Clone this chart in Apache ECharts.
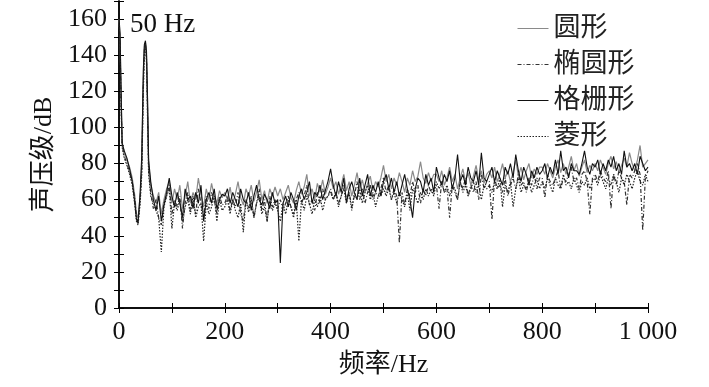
<!DOCTYPE html>
<html>
<head>
<meta charset="utf-8">
<script src="https://cdn.jsdelivr.net/npm/echarts@6/dist/echarts.min.js"></script>
<style>
    html, body {margin: 0; padding: 0; background: #fff;}
    #main {width: 709px; height: 387px;}
</style>
</head>
<body>
<div id="main"></div>
<script>
// frequency samples (Hz)
var freq = [
    0, 2, 4, 6, 10, 15, 20, 25, 30, 33, 36, 40, 43, 46, 48, 50, 52, 54, 56,
    60, 65, 70, 75, 80, 85, 90, 95,
    100, 105, 110, 115, 120, 125, 130, 135, 140, 145, 150, 155, 160, 165, 170, 175, 180, 185, 190, 195,
    200, 205, 210, 215, 220, 225, 230, 235, 240, 245, 250, 255, 260, 265, 270, 275, 280, 285, 290, 295,
    300, 305, 310, 315, 320, 325, 330, 335, 340, 345, 350, 355, 360, 365, 370, 375, 380, 385, 390, 395,
    400, 405, 410, 415, 420, 425, 430, 435, 440, 445, 450, 455, 460, 465, 470, 475, 480, 485, 490, 495,
    500, 505, 510, 515, 520, 525, 530, 535, 540, 545, 550, 555, 560, 565, 570, 575, 580, 585, 590, 595,
    600, 605, 610, 615, 620, 625, 630, 635, 640, 645, 650, 655, 660, 665, 670, 675, 680, 685, 690, 695,
    700, 705, 710, 715, 720, 725, 730, 735, 740, 745, 750, 755, 760, 765, 770, 775, 780, 785, 790, 795,
    800, 805, 810, 815, 820, 825, 830, 835, 840, 845, 850, 855, 860, 865, 870, 875, 880, 885, 890, 895,
    900, 905, 910, 915, 920, 925, 930, 935, 940, 945, 950, 955, 960, 965, 970, 975, 980, 985, 990, 995, 1000
];

// sound pressure level (dB) per shape
var circle = [
    160, 150, 118, 92, 86, 82, 78, 72, 62, 52, 50, 62, 80, 128, 145, 147, 140, 112, 80,
    68, 62, 58, 64, 52, 60, 66, 70,
    58, 66, 60, 68, 55, 62, 70, 58, 64, 60, 72, 63, 56, 66, 60, 69, 62, 58, 65, 61,
    64, 60, 67, 58, 63, 70, 61, 57, 66, 62, 68, 59, 64, 71, 60, 65, 58, 66, 62, 67,
    62, 66, 60, 64, 68, 61, 58, 65, 70, 63, 67, 74, 62, 66, 60, 69, 64, 71, 63, 67,
    72, 66, 70, 63, 68, 74, 65, 70, 62, 68, 75, 66, 71, 64, 69, 73, 65, 70, 67, 72,
    79, 70, 74, 66, 72, 68, 75, 70, 64, 72, 68, 76, 70, 73, 81, 72, 69, 75, 70, 74,
    74, 70, 76, 68, 72, 78, 70, 74, 66, 72, 77, 70, 75, 68, 73, 79, 71, 76, 69, 74,
    76, 72, 78, 70, 74, 80, 72, 76, 70, 75, 82, 73, 78, 71, 76, 80, 72, 77, 74, 78,
    78, 74, 80, 76, 72, 78, 82, 75, 80, 74, 78, 84, 76, 80, 73, 78, 82, 75, 79, 76,
    80, 76, 82, 78, 74, 80, 84, 77, 81, 75, 79, 83, 78, 86, 80, 76, 82, 90, 78, 80, 82
];
var ellipse = [
    158, 146, 112, 90, 84, 80, 75, 70, 60, 50, 48, 60, 76, 124, 143, 146, 138, 108, 76,
    64, 55, 60, 50, 46, 58, 62, 68,
    52, 60, 56, 62, 44, 58, 64, 54, 60, 52, 66, 58, 50, 62, 55, 64, 60, 52, 62, 57,
    58, 62, 54, 60, 56, 64, 52, 48, 60, 55, 62, 50, 58, 66, 54, 60, 48, 62, 56, 60,
    55, 60, 54, 58, 62, 56, 52, 60, 64, 58, 62, 68, 57, 60, 54, 64, 58, 66, 60, 62,
    66, 60, 64, 58, 62, 68, 60, 64, 56, 62, 70, 60, 66, 58, 64, 68, 60, 64, 62, 66,
    72, 64, 68, 60, 66, 62, 36, 64, 57, 66, 62, 70, 64, 68, 58, 66, 62, 68, 64, 66,
    68, 55, 70, 64, 66, 50, 68, 64, 60, 70, 66, 72, 62, 68, 64, 70, 60, 74, 66, 70,
    70, 49, 72, 66, 68, 64, 72, 62, 68, 72, 66, 74, 68, 70, 64, 72, 68, 74, 66, 72,
    72, 61, 74, 70, 68, 72, 76, 66, 72, 70, 74, 78, 70, 72, 66, 74, 76, 70, 52, 72,
    74, 70, 76, 72, 70, 76, 55, 74, 68, 76, 72, 70, 57, 74, 72, 76, 80, 74, 43, 72, 76
];
var grating = [
    161, 152, 120, 91, 87, 83, 77, 70, 58, 49, 47, 64, 84, 132, 146, 148, 142, 116, 82,
    70, 60, 54, 62, 48, 57, 64, 72,
    62, 56, 64, 58, 50, 66, 60, 62, 55, 64, 58, 68, 48, 60, 64, 58, 66, 55, 60, 63,
    62, 66, 58, 64, 60, 56, 66, 60, 58, 64, 54, 62, 68, 60, 57, 63, 60, 55, 64, 58,
    60, 25, 58, 62, 56, 64, 60, 54, 62, 66, 60, 64, 70, 58, 64, 62, 68, 60, 65, 70,
    77, 68, 62, 70, 64, 72, 58, 66, 70, 64, 60, 72, 62, 68, 74, 62, 68, 64, 70, 62,
    70, 74, 66, 72, 64, 70, 62, 68, 74, 66, 60, 50, 66, 72, 70, 64, 74, 68, 72, 64,
    78, 72, 68, 74, 70, 76, 66, 72, 85, 70, 74, 68, 78, 72, 70, 76, 68, 86, 72, 70,
    74, 78, 70, 76, 72, 68, 78, 74, 80, 72, 85, 76, 70, 78, 74, 68, 76, 72, 78, 74,
    76, 80, 72, 78, 74, 82, 74, 87, 76, 78, 72, 80, 76, 76, 74, 80, 87, 78, 74, 80,
    78, 82, 74, 80, 76, 82, 78, 84, 76, 80, 74, 87, 78, 80, 76, 80, 74, 84, 80, 76, 78
];
var diamond = [
    157, 145, 110, 89, 83, 79, 74, 68, 57, 48, 46, 58, 74, 120, 141, 145, 136, 104, 74,
    62, 58, 54, 50, 31, 56, 62, 66,
    44, 58, 54, 60, 48, 56, 60, 52, 62, 50, 56, 58, 37, 58, 52, 56, 62, 48, 60, 54,
    56, 60, 52, 60, 54, 50, 58, 42, 60, 53, 60, 50, 58, 62, 52, 56, 48, 60, 54, 58,
    54, 48, 58, 52, 60, 56, 50, 60, 37, 60, 54, 62, 58, 52, 60, 56, 62, 54, 60, 62,
    64, 60, 64, 56, 62, 66, 58, 64, 54, 64, 60, 66, 58, 64, 68, 60, 64, 56, 62, 62,
    66, 62, 66, 60, 64, 58, 64, 60, 56, 64, 54, 66, 62, 58, 64, 60, 66, 62, 66, 62,
    70, 66, 70, 64, 68, 62, 68, 66, 60, 70, 64, 68, 62, 66, 70, 64, 68, 60, 68, 66,
    68, 64, 70, 66, 72, 56, 68, 64, 70, 56, 66, 72, 64, 68, 66, 70, 64, 68, 72, 66,
    70, 66, 72, 68, 64, 72, 68, 66, 74, 68, 70, 66, 72, 68, 64, 70, 68, 72, 66, 70,
    72, 68, 74, 70, 66, 72, 68, 74, 70, 64, 72, 68, 74, 70, 66, 72, 76, 70, 68, 74, 70
];

var names = ['圆形', '椭圆形', '格栅形', '菱形'];
var serif = '"Liberation Serif", "Noto Sans CJK SC", serif';

function pairs(vals) {
    return freq.map(function (f, i) { return [f, vals[i]]; });
}

var axisCommon = {
    axisLine: {show: true, lineStyle: {color: '#000', width: 1.5}},
    axisTick: {show: true, inside: true, length: 5, lineStyle: {color: '#000', width: 1}},
    splitLine: {show: false}
};

var chart = echarts.init(document.getElementById('main'));
chart.setOption({
    animation: false,
    backgroundColor: '#fff',
    grid: {left: 119, right: 61, top: 1, bottom: 79},
    legend: {
        orient: 'vertical',
        left: 512,
        top: 10,
        itemWidth: 31,
        itemHeight: 12,
        itemGap: 9,
        data: names,
        itemStyle: {opacity: 0},
        lineStyle: {width: 1},
        textStyle: {fontFamily: serif, fontSize: 27, lineHeight: 27, color: '#222'}
    },
    graphic: [{
        type: 'text',
        left: 130,
        top: 11,
        style: {text: '50 Hz', font: '27px "Liberation Serif"', fill: '#111'}
    }],
    xAxis: [
        Object.assign({}, axisCommon, {
            type: 'value', min: 0, max: 1000, interval: 100,
            name: '频率/Hz', nameLocation: 'middle', nameGap: 44,
            nameTextStyle: {fontFamily: serif, fontSize: 26, color: '#111'},
            axisLabel: {
                fontFamily: serif, fontSize: 26, color: '#111', margin: 11,
                formatter: function (v) {
                    if (v % 200 !== 0) return '';
                    return v === 1000 ? '1 000' : String(v);
                }
            }
        }),
        Object.assign({}, axisCommon, {
            type: 'value', position: 'top', min: 0, max: 1000, interval: 100,
            axisLabel: {show: false}
        })
    ],
    yAxis: [
        Object.assign({}, axisCommon, {
            type: 'value', min: 0, max: 170, interval: 10,
            name: '声压级/dB', nameLocation: 'middle', nameGap: 57, nameRotate: 90,
            nameTextStyle: {fontFamily: serif, fontSize: 26, color: '#111'},
            axisLabel: {
                fontFamily: serif, fontSize: 26, color: '#111', margin: 12,
                formatter: function (v) { return v % 20 === 0 ? String(v) : ''; }
            }
        }),
        Object.assign({}, axisCommon, {
            type: 'value', position: 'right', min: 0, max: 170, interval: 10,
            axisLabel: {show: false}
        })
    ],
    series: [
        {
            name: '圆形', type: 'line', symbol: 'none', data: pairs(circle),
            lineStyle: {color: '#8a8a8a', width: 1.2}, itemStyle: {color: '#8a8a8a'}
        },
        {
            name: '椭圆形', type: 'line', symbol: 'none', data: pairs(ellipse),
            lineStyle: {color: '#333', width: 1.2, type: [4, 2, 1, 2]}, itemStyle: {color: '#333'}
        },
        {
            name: '格栅形', type: 'line', symbol: 'none', data: pairs(grating),
            lineStyle: {color: '#111', width: 1.1}, itemStyle: {color: '#111'}
        },
        {
            name: '菱形', type: 'line', symbol: 'none', data: pairs(diamond),
            lineStyle: {color: '#222', width: 1.2, type: [1.5, 1.5]}, itemStyle: {color: '#222'}
        }
    ]
});
</script>
</body>
</html>
